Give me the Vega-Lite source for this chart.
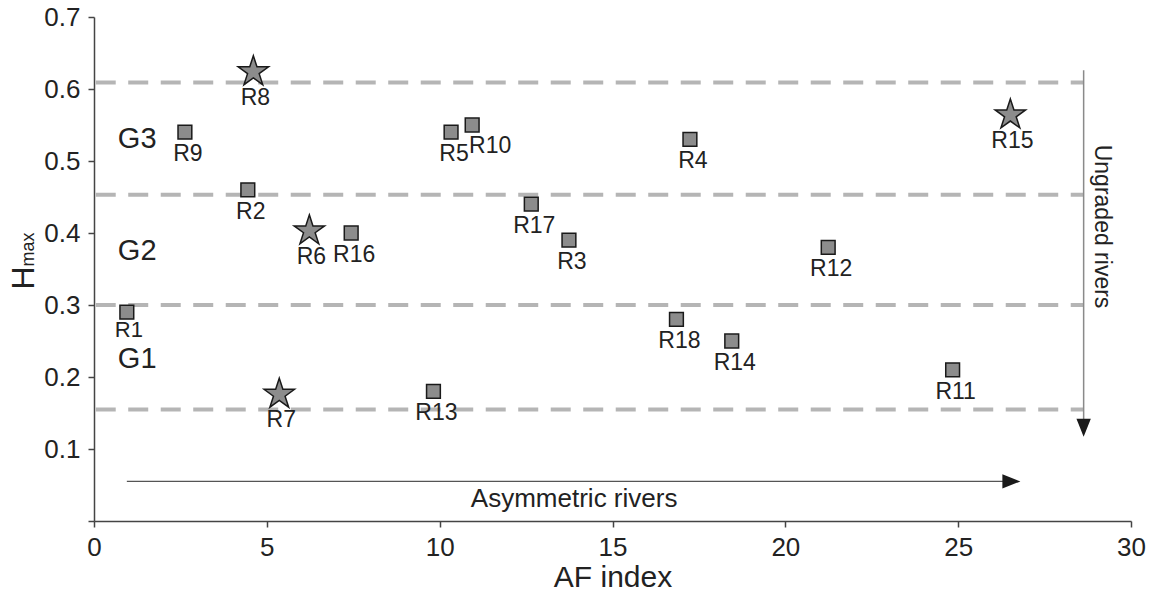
{
  "$schema": "https://vega.github.io/schema/vega-lite/v6.json",
  "width": 1037,
  "height": 504,
  "autosize": {"type": "none"},
  "padding": {"left": 94, "top": 17, "right": 23, "bottom": 74},
  "background": "white",
  "config": {
    "view": {"stroke": null},
    "font": "Liberation Sans",
    "text": {"font": "Liberation Sans", "color": "#222"}
  },
  "datasets": {
    "rivers": [
      {"name": "R1", "x": 0.95, "y": 0.29, "type": "square"},
      {"name": "R2", "x": 4.45, "y": 0.46, "type": "square"},
      {"name": "R3", "x": 13.74, "y": 0.39, "type": "square"},
      {"name": "R4", "x": 17.24, "y": 0.53, "type": "square"},
      {"name": "R5", "x": 10.33, "y": 0.54, "type": "square"},
      {"name": "R6", "x": 6.23, "y": 0.403, "type": "star"},
      {"name": "R7", "x": 5.36, "y": 0.176, "type": "star"},
      {"name": "R8", "x": 4.61, "y": 0.624, "type": "star"},
      {"name": "R9", "x": 2.63, "y": 0.54, "type": "square"},
      {"name": "R10", "x": 10.94, "y": 0.55, "type": "square"},
      {"name": "R11", "x": 24.84, "y": 0.21, "type": "square"},
      {"name": "R12", "x": 21.24, "y": 0.38, "type": "square"},
      {"name": "R13", "x": 9.82, "y": 0.18, "type": "square"},
      {"name": "R14", "x": 18.45, "y": 0.25, "type": "square"},
      {"name": "R15", "x": 26.51, "y": 0.564, "type": "star"},
      {"name": "R16", "x": 7.44, "y": 0.40, "type": "square"},
      {"name": "R17", "x": 12.65, "y": 0.44, "type": "square"},
      {"name": "R18", "x": 16.85, "y": 0.28, "type": "square"}
    ],
    "bounds": [
      {"x": 0.05, "x2": 28.63, "y": 0.609},
      {"x": 0.05, "x2": 28.63, "y": 0.453},
      {"x": 0.05, "x2": 28.63, "y": 0.3},
      {"x": 0.05, "x2": 28.63, "y": 0.155}
    ],
    "groups": [
      {"label": "G3", "x": 0.69, "y": 0.518},
      {"label": "G2", "x": 0.69, "y": 0.3625},
      {"label": "G1", "x": 0.69, "y": 0.2125}
    ]
  },
  "encoding": {
    "x": {
      "field": "x",
      "type": "quantitative",
      "scale": {"domain": [0, 30], "nice": false, "zero": false},
      "axis": {
        "title": "AF index",
        "values": [0, 5, 10, 15, 20, 25, 30],
        "grid": false,
        "domainColor": "#444",
        "domainWidth": 1.5,
        "tickColor": "#444",
        "tickWidth": 1.5,
        "tickSize": 6,
        "labelFont": "Liberation Sans",
        "labelFontSize": 26,
        "labelColor": "#222",
        "labelPadding": 7,
        "labelFlush": false,
        "titleFont": "Liberation Sans",
        "titleFontSize": 30,
        "titleFontWeight": "normal",
        "titleColor": "#222",
        "titlePadding": 2
      }
    },
    "y": {
      "field": "y",
      "type": "quantitative",
      "scale": {"domain": [0, 0.7], "nice": false, "zero": false},
      "axis": {
        "title": null,
        "values": [0, 0.1, 0.2, 0.3, 0.4, 0.5, 0.6, 0.7],
        "labelExpr": "datum.value == 0 ? '' : format(datum.value, '.1f')",
        "grid": false,
        "domainColor": "#444",
        "domainWidth": 1.5,
        "tickColor": "#444",
        "tickWidth": 1.5,
        "tickSize": 6,
        "labelFont": "Liberation Sans",
        "labelFontSize": 26,
        "labelColor": "#222",
        "labelPadding": 8,
        "labelFlush": false
      }
    }
  },
  "layer": [
    {
      "data": {"name": "bounds"},
      "mark": {"type": "rule", "color": "#b5b5b5", "strokeWidth": 4, "strokeDash": [20, 12.5]},
      "encoding": {"x2": {"field": "x2"}}
    },
    {
      "data": {"values": [{"x": 28.63, "y": 0.626, "y2": 0.125}]},
      "mark": {"type": "rule", "color": "#8a8a8a", "strokeWidth": 1.5},
      "encoding": {"y2": {"field": "y2"}}
    },
    {
      "data": {"values": [{"x": 28.63, "y": 0.117}]},
      "mark": {"type": "point", "shape": "M-0.8,-2L0.8,-2L0,0Z", "size": 324, "filled": true, "color": "#1a1a1a", "opacity": 1}
    },
    {
      "data": {"values": [{"x": 0.95, "x2": 26.5, "y": 0.055}]},
      "mark": {"type": "rule", "color": "#555", "strokeWidth": 1.2},
      "encoding": {"x2": {"field": "x2"}}
    },
    {
      "data": {"values": [{"x": 26.8, "y": 0.055}]},
      "mark": {"type": "point", "shape": "M-2,-0.8L-2,0.8L0,0Z", "size": 324, "filled": true, "color": "#1a1a1a", "opacity": 1}
    },
    {
      "data": {"name": "rivers"},
      "mark": {"type": "point", "filled": true, "fill": "#8c8c8c", "stroke": "#1a1a1a", "strokeWidth": 1.5, "opacity": 1},
      "encoding": {
        "shape": {
          "field": "type",
          "type": "nominal",
          "scale": {"domain": ["square", "star"], "range": ["square", "M0,-1L0.225,-0.309L0.951,-0.309L0.363,0.118L0.588,0.809L0,0.382L-0.588,0.809L-0.363,0.118L-0.951,-0.309L-0.225,-0.309Z"]},
          "legend": null
        },
        "size": {
          "field": "type",
          "type": "nominal",
          "scale": {"domain": ["square", "star"], "range": [190, 1024]},
          "legend": null
        }
      }
    },
    {
      "data": {"name": "rivers"},
      "transform": [{"filter": "datum.type == 'square' && datum.name != 'R10' && datum.name != 'R1'"}],
      "mark": {"type": "text", "fontSize": 23, "align": "center", "baseline": "alphabetic", "dy": 29, "dx": 3},
      "encoding": {"text": {"field": "name"}}
    },
    {
      "data": {"name": "rivers"},
      "transform": [{"filter": "datum.name == 'R1'"}],
      "mark": {"type": "text", "fontSize": 22, "align": "center", "baseline": "alphabetic", "dy": 25, "dx": 2},
      "encoding": {"text": {"field": "name"}}
    },
    {
      "data": {"name": "rivers"},
      "transform": [{"filter": "datum.type == 'star'"}],
      "mark": {"type": "text", "fontSize": 23, "align": "center", "baseline": "alphabetic", "dy": 33, "dx": 2},
      "encoding": {"text": {"field": "name"}}
    },
    {
      "data": {"name": "rivers"},
      "transform": [{"filter": "datum.name == 'R10'"}],
      "mark": {"type": "text", "fontSize": 23, "align": "center", "baseline": "alphabetic", "dy": 28, "dx": 18},
      "encoding": {"text": {"field": "name"}}
    },
    {
      "data": {"name": "groups"},
      "mark": {"type": "text", "fontSize": 29, "align": "left", "baseline": "alphabetic"},
      "encoding": {"text": {"field": "label"}}
    },
    {
      "data": {"values": [{"label": "Asymmetric rivers", "x": 13.89, "y": 0.02}]},
      "mark": {"type": "text", "fontSize": 26, "align": "center", "baseline": "alphabetic"},
      "encoding": {"text": {"field": "label"}}
    },
    {
      "data": {"values": [{"label": "Ungraded rivers", "x": 28.97, "y": 0.409}]},
      "mark": {"type": "text", "fontSize": 23, "align": "center", "baseline": "alphabetic", "angle": 90},
      "encoding": {"text": {"field": "label"}}
    },
    {
      "data": {"values": [{"label": "H", "x": -1.73, "y": 0.3375}]},
      "mark": {"type": "text", "fontSize": 32, "align": "center", "baseline": "alphabetic", "angle": 270},
      "encoding": {"text": {"field": "label"}}
    },
    {
      "data": {"values": [{"label": "max", "x": -1.73, "y": 0.377}]},
      "mark": {"type": "text", "fontSize": 18, "align": "center", "baseline": "alphabetic", "angle": 270},
      "encoding": {"text": {"field": "label"}}
    }
  ]
}
